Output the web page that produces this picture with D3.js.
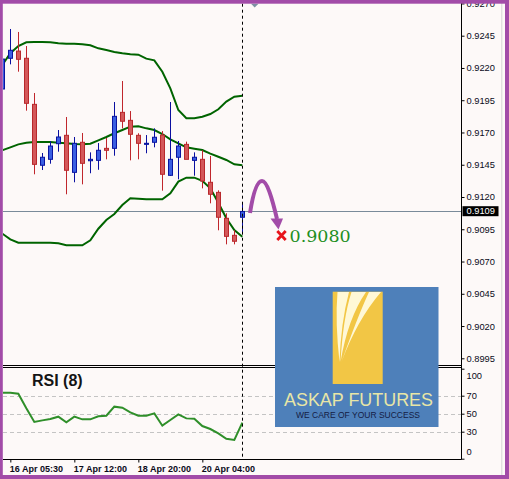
<!DOCTYPE html>
<html>
<head>
<meta charset="utf-8">
<script src="https://cdn.jsdelivr.net/npm/d3@7/dist/d3.min.js"></script>
<style>
html,body{margin:0;padding:0;background:#fdf9f8;}
svg{display:block;font-family:"Liberation Sans",Arial,sans-serif;}
</style>
</head>
<body>
<svg id="chart" width="509" height="479"></svg>
<script>
// ---- DATA ----
const opens  = [0.92037,0.92275,0.92331,0.92275,0.91918,0.91446,0.91492,0.91613,0.91678,0.91391,0.91624,0.91481,0.91484,0.91577,0.91577,0.91856,0.91794,0.91678,0.91608,0.91624,0.91680,0.91368,0.91508,0.91608,0.91484,0.91492,0.91314,0.91236,0.91035,0.90903,0.91043];
const highs  = [0.92285,0.92502,0.92479,0.92370,0.92006,0.91541,0.91632,0.91719,0.91820,0.91665,0.91696,0.91546,0.91618,0.91657,0.91936,0.92099,0.91866,0.91694,0.91680,0.91732,0.91711,0.91936,0.91634,0.91629,0.91546,0.91562,0.91518,0.91252,0.91074,0.90942,0.91161];
const lows   = [0.92021,0.92228,0.92171,0.91869,0.91376,0.91409,0.91458,0.91551,0.91221,0.91314,0.91298,0.91384,0.91411,0.91492,0.91520,0.91732,0.91484,0.91492,0.91539,0.91585,0.91249,0.91363,0.91337,0.91531,0.91365,0.91267,0.91151,0.90942,0.90833,0.90833,0.90926];
const closes = [0.92269,0.92337,0.92267,0.91926,0.91453,0.91508,0.91595,0.91665,0.91407,0.91616,0.91461,0.91492,0.91562,0.91562,0.91825,0.91787,0.91686,0.91616,0.91616,0.91663,0.91376,0.91492,0.91595,0.91492,0.91508,0.91324,0.91221,0.91043,0.90895,0.90857,0.91088];
const upperBand  = [0.92223,0.92314,0.92370,0.92399,0.92401,0.92401,0.92399,0.92391,0.92388,0.92388,0.92383,0.92376,0.92352,0.92339,0.92324,0.92314,0.92306,0.92303,0.92272,0.92259,0.92171,0.92042,0.91874,0.91810,0.91810,0.91822,0.91843,0.91880,0.91939,0.91977,0.91985];
const middleBand = [0.91562,0.91585,0.91608,0.91621,0.91626,0.91626,0.91626,0.91621,0.91616,0.91611,0.91608,0.91613,0.91639,0.91665,0.91694,0.91719,0.91745,0.91748,0.91732,0.91719,0.91688,0.91647,0.91616,0.91585,0.91574,0.91564,0.91536,0.91512,0.91487,0.91453,0.91446];
const lowerBand  = [0.90916,0.90872,0.90846,0.90846,0.90846,0.90846,0.90846,0.90841,0.90826,0.90826,0.90826,0.90864,0.90954,0.91022,0.91068,0.91138,0.91190,0.91187,0.91182,0.91182,0.91182,0.91229,0.91319,0.91350,0.91350,0.91326,0.91267,0.91156,0.91035,0.90944,0.90892];
const rsiValues  = [73.3,73.3,72.2,56.0,40.8,42.6,44.1,46.7,40.4,46.7,43.7,43.7,47.1,47.8,57.8,56.7,51.5,47.8,47.8,50.4,36.7,43.0,49.3,44.8,44.4,36.3,33.0,28.2,22.2,20.8,40.0];
const timeTickIndex  = [1,9,17,25];
const timeTickLabels = ["16 Apr 05:30","17 Apr 12:00","18 Apr 20:00","20 Apr 04:00"];
const priceTicks = [0.9270,0.9245,0.9220,0.9195,0.9170,0.9145,0.9120,0.9095,0.9070,0.9045,0.9020,0.8995];
const rsiTicks   = [0,30,50,70,100];
const rsiLevels  = [30,50,70];
const currentPrice = 0.9109;
const targetLabel = "0.9080";

// ---- LAYOUT ----
const svg = d3.select("#chart");
const W = 509, H = 479;
const plotL = 3, plotR = 461.5, mainT = 3.7, mainB = 365.5, rsiT = 367.5, rsiB = 459.5;
const x  = d3.scaleLinear().domain([0, 30]).range([2.33, 242.33]);
const y  = d3.scaleLinear().domain([0.8995, 0.9245]).range([358.3, 35.7]);
const yr = d3.scaleLinear().domain([0, 100]).range([458.7, 368.7]);
const SANS = "Liberation Sans, Arial, sans-serif";

svg.append("rect").attr("width", W).attr("height", H).attr("fill", "#fdf9f8");

const defs = svg.append("defs");
defs.append("clipPath").attr("id","mainClip").append("rect")
  .attr("x", plotL).attr("y", mainT).attr("width", plotR - plotL).attr("height", mainB - mainT);
defs.append("clipPath").attr("id","rsiClip").append("rect")
  .attr("x", plotL).attr("y", rsiT).attr("width", plotR - plotL).attr("height", rsiB - rsiT);

// ---- MAIN PANEL ----
const main = svg.append("g").attr("clip-path","url(#mainClip)");
const idx = d3.range(opens.length);

main.append("line").attr("x1", plotL).attr("x2", plotR)
  .attr("y1", Math.round(y(currentPrice)) + 0.5).attr("y2", Math.round(y(currentPrice)) + 0.5)
  .attr("stroke", "#7a8b9a").attr("stroke-width", 1);

const bandLine = arr => d3.line().x((d,i) => x(i)).y(d => y(d))(arr);
[upperBand, middleBand, lowerBand].forEach(b => {
  main.append("path").attr("d", bandLine(b)).attr("fill","none")
    .attr("stroke","#006400").attr("stroke-width", 2);
});

const candles = main.append("g").selectAll("g").data(idx).join("g");
candles.append("line")
  .attr("x1", i => Math.round(x(i)) + 0.5).attr("x2", i => Math.round(x(i)) + 0.5)
  .attr("y1", i => y(highs[i])).attr("y2", i => y(lows[i]))
  .attr("stroke", i => closes[i] >= opens[i] ? "#0a0fa0" : "#c0262c").attr("stroke-width", 1);
candles.append("rect")
  .attr("x", i => Math.round(x(i)) - 1.5)
  .attr("y", i => y(Math.max(opens[i], closes[i])))
  .attr("width", 4)
  .attr("height", i => Math.max(1, y(Math.min(opens[i], closes[i])) - y(Math.max(opens[i], closes[i]))))
  .attr("fill", i => closes[i] >= opens[i] ? "#3a5ee2" : "#d4585a")
  .attr("stroke", i => closes[i] >= opens[i] ? "#0a14a0" : "#b8282c").attr("stroke-width", 1);

// ---- RSI PANEL ----
const rsiG = svg.append("g").attr("clip-path","url(#rsiClip)");
rsiG.selectAll("line.lvl").data(rsiLevels).join("line").attr("class","lvl")
  .attr("x1", plotL).attr("x2", plotR)
  .attr("y1", d => Math.round(yr(d)) + 0.5).attr("y2", d => Math.round(yr(d)) + 0.5)
  .attr("stroke", "#c4c4c4").attr("stroke-dasharray", "4,3");
rsiG.append("path")
  .attr("d", d3.line().x((d,i) => x(i)).y(d => yr(d))(rsiValues))
  .attr("fill","none").attr("stroke","#2f8f2a").attr("stroke-width", 2);

svg.append("text").attr("x", 32).attr("y", 386).text("RSI (8)")
  .style("font-family", SANS).attr("font-size", 16).attr("font-weight","bold").attr("fill","#141414");

svg.append("line").attr("x1", Math.round(x(30)) + 0.5).attr("x2", Math.round(x(30)) + 0.5)
  .attr("y1", mainT).attr("y2", rsiB)
  .attr("stroke","#000").attr("stroke-width",1).attr("stroke-dasharray","3,3");

// ---- FRAMES ----
svg.append("line").attr("x1", plotL).attr("x2", plotR).attr("y1", mainB).attr("y2", mainB).attr("stroke","#000");
svg.append("line").attr("x1", plotL).attr("x2", plotR).attr("y1", rsiT).attr("y2", rsiT).attr("stroke","#000");
svg.append("line").attr("x1", plotL).attr("x2", plotR).attr("y1", rsiB).attr("y2", rsiB).attr("stroke","#000");
svg.append("line").attr("x1", plotR).attr("x2", plotR).attr("y1", 0).attr("y2", rsiB).attr("stroke","#000");
svg.append("line").attr("x1", 501.8).attr("x2", 501.8).attr("y1", 0).attr("y2", H).attr("stroke","#d6d6d6");

// ---- AXES ----
const pAxis = svg.append("g").attr("transform", `translate(${plotR},0)`)
  .call(d3.axisRight(y).tickValues(priceTicks).tickSize(3).tickPadding(2).tickFormat(d3.format(".4f")));
pAxis.select(".domain").remove();
pAxis.selectAll("text").attr("font-size", 9.3).attr("fill","#0a0a1a").style("font-family", SANS);
pAxis.selectAll("line").attr("stroke","#000");

const cpY = y(currentPrice);
svg.append("rect").attr("x", 462.5).attr("y", cpY - 5).attr("width", 36).attr("height", 10).attr("fill","#000");
svg.append("text").attr("x", 466.5).attr("y", cpY).attr("dy","0.34em").text(d3.format(".4f")(currentPrice))
  .style("font-family", SANS).attr("font-size", 9.3).attr("fill","#fff");

const rAxis = svg.append("g").attr("transform", `translate(${plotR},0)`)
  .call(d3.axisRight(yr).tickValues(rsiTicks).tickSize(3).tickPadding(2));
rAxis.select(".domain").remove();
rAxis.selectAll("text").attr("font-size", 9.3).attr("fill","#0a0a1a").style("font-family", SANS)
  .attr("y", d => d === 100 ? 6.6 : d === 0 ? -7 : 0);
rAxis.selectAll("line").attr("stroke","#000");

const tAxis = svg.append("g").attr("transform", `translate(0,${rsiB})`)
  .call(d3.axisBottom(x).tickValues(timeTickIndex).tickSize(3).tickPadding(3)
    .tickFormat((d,i) => timeTickLabels[i]));
tAxis.select(".domain").remove();
tAxis.selectAll("text").attr("font-size", 9).attr("font-weight","bold").attr("fill","#0a0a1a")
  .attr("text-anchor","start").attr("x", -1).style("font-family", SANS);
tAxis.selectAll("line").attr("stroke","#000");

// ---- ANNOTATION ----
const purple = "#a24ca8";
svg.append("path").attr("d","M250,213 C253,194 257,181 262,181 C267,181 272,198 277,219")
  .attr("fill","none").attr("stroke", purple).attr("stroke-width", 4);
svg.append("path").attr("d","M270.5,218.5 L283,218.5 L278.5,229.5 Z").attr("fill", purple);
svg.append("path").attr("d","M277.3,231 L285.7,240 M285.7,231 L277.3,240")
  .attr("stroke","#e8141b").attr("stroke-width", 2.8);
svg.append("text").attr("x", 289.5).attr("y", 241.5).text(targetLabel)
  .style("font-family","'DejaVu Serif', 'Liberation Serif', serif").attr("font-size", 17.5).attr("fill","#1f8f1f");

// ---- LOGO ----
const logo = svg.append("g");
logo.append("rect").attr("x", 275).attr("y", 287).attr("width", 163.5).attr("height", 140).attr("fill","#4e80ba");
logo.append("rect").attr("x", 332.7).attr("y", 291.7).attr("width", 50).attr("height", 92.3).attr("fill","#f2c645");
logo.append("path").attr("d","M337.5,292 L349,292 Q341,322 339.5,362 Q335,322 337.5,292 Z").attr("fill","#fff8d6");
logo.append("path").attr("d","M351.5,292 L366,292 Q348,318 340.5,362 Q343,318 351.5,292 Z").attr("fill","#fff8d6");
logo.append("path").attr("d","M369,292 L381,292 Q357,320 341.5,362 Q357,318 369,292 Z").attr("fill","#fff8d6");
logo.append("text").attr("x", 284).attr("y", 405.5).text("ASKAP FUTURES").style("font-family", SANS)
  .attr("font-size", 17.5).attr("fill","#e8e6a6").attr("textLength", 149).attr("lengthAdjust","spacingAndGlyphs");
logo.append("text").attr("x", 296).attr("y", 418).text("WE CARE OF YOUR SUCCESS").style("font-family", SANS)
  .attr("font-size", 9).attr("fill","#141c44").attr("textLength", 124).attr("lengthAdjust","spacingAndGlyphs");

svg.append("path").attr("d","M251,3.7 L258.5,3.7 L254.7,7.5 Z").attr("fill","#7d90a2");

// ---- BORDER ----
svg.append("rect").attr("x",0).attr("y",0).attr("width",W).attr("height",3.7).attr("fill",purple);
svg.append("rect").attr("x",0).attr("y",0).attr("width",2.8).attr("height",H).attr("fill",purple);
svg.append("rect").attr("x",505).attr("y",0).attr("width",4).attr("height",H).attr("fill",purple);
svg.append("rect").attr("x",0).attr("y",475).attr("width",W).attr("height",4).attr("fill",purple);
</script>
</body>
</html>
